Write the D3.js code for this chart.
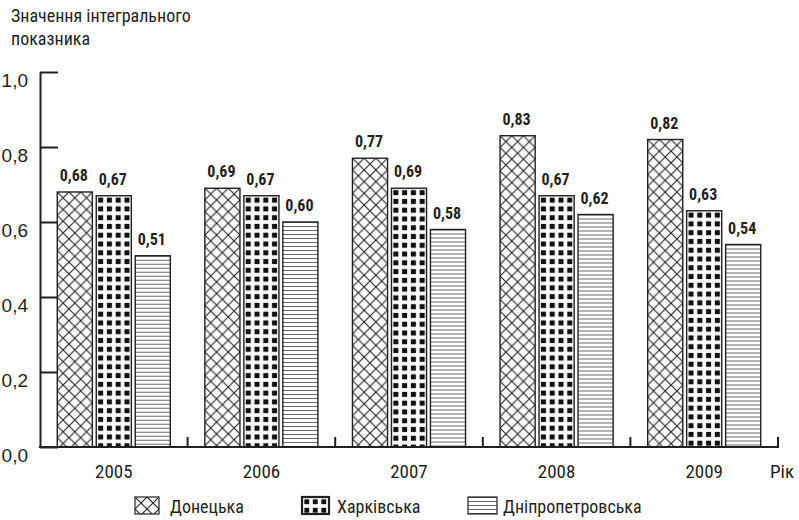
<!DOCTYPE html>
<html><head><meta charset="utf-8">
<script src="https://cdn.jsdelivr.net/npm/d3@7"></script>
<style>
html,body{margin:0;padding:0;background:#fff;}
svg{display:block;font-family:"Liberation Sans Narrow","Roboto Condensed","DejaVu Sans Condensed",sans-serif;}
</style></head><body>
<svg id="chart" width="799" height="520"></svg>
<script>
// Integral index values by region and year
const years = ["2005", "2006", "2007", "2008", "2009"];
const regions = ["Донецька", "Харківська", "Дніпропетровська"];
const donetsk = [0.68, 0.69, 0.77, 0.83, 0.82];
const kharkiv = [0.67, 0.67, 0.69, 0.67, 0.63];
const dnipro  = [0.51, 0.60, 0.58, 0.62, 0.54];
const yTicks = [0, 0.2, 0.4, 0.6, 0.8, 1.0];
const yTitle = ["Значення інтегрального", "показника"];
const xTitle = "Рік";

const seriesValues = [donetsk, kharkiv, dnipro];
const ink = "#231f20";

const locale = d3.formatLocale({decimal: ",", thousands: " ", grouping: [3], currency: ["", ""]});
const fmtTick = locale.format(".1f");
const fmtVal = locale.format(".2f");

const svg = d3.select("#chart");
const defs = svg.append("defs");

const x = d3.scaleBand().domain(years).range([40, 778]).padding(0);
const groupW = x.bandwidth() * 0.766;
const xs = d3.scaleBand().domain(regions).range([0, groupW]).paddingInner(0.1);
const y = d3.scaleLinear().domain([0, 1]).range([447, 72]);

// Fill patterns: cross-hatch, black squares, horizontal lines
function makePattern(id, kind, ox, oy, w) {
  const p = defs.append("pattern").attr("id", id).attr("patternUnits", "userSpaceOnUse");
  if (kind === 0) {
    const t = w / 3;
    p.attr("width", t).attr("height", t).attr("patternTransform", `translate(${ox},${oy})`);
    p.append("rect").attr("width", t).attr("height", t).attr("fill", "#fff");
    p.append("path").attr("d", `M0,0L${t},${t}M${t},0L0,${t}`)
      .attr("stroke", ink).attr("stroke-width", 1.1).attr("fill", "none");
  } else if (kind === 1) {
    const t = w / 4, s = t * 0.58, o = (t - s) / 2;
    p.attr("width", t).attr("height", t).attr("patternTransform", `translate(${ox},${oy})`);
    p.append("rect").attr("width", t).attr("height", t).attr("fill", "#fff");
    p.append("rect").attr("x", o).attr("y", o).attr("width", s).attr("height", s).attr("fill", "#111");
  } else {
    const t = 4;
    p.attr("width", 10).attr("height", t).attr("patternTransform", `translate(${ox},${oy})`);
    p.append("rect").attr("width", 10).attr("height", t).attr("fill", "#fff");
    p.append("line").attr("x1", 0).attr("x2", 10).attr("y1", 0.5).attr("y2", 0.5)
      .attr("stroke", "#6a6a6a").attr("stroke-width", 1);
  }
}

const bars = [];
years.forEach((yr, i) => {
  regions.forEach((r, j) => {
    const cx = x(yr) + (x.bandwidth() - groupW) / 2;
    bars.push({year: yr, region: r, s: j, v: seriesValues[j][i], x0: cx + xs(r), w: xs.bandwidth()});
  });
});

bars.forEach((b, k) => makePattern("pb" + k, b.s, b.x0, y(b.v), b.w));

const gBars = svg.append("g");
gBars.selectAll("rect").data(bars).join("rect")
  .attr("x", d => d.x0)
  .attr("y", d => y(d.v))
  .attr("width", d => d.w)
  .attr("height", d => y(0) - y(d.v))
  .attr("fill", (d, k) => `url(#pb${k})`)
  .attr("stroke", ink)
  .attr("stroke-width", 1.4);

// Value labels
svg.append("g").selectAll("text").data(bars).join("text")
  .attr("x", d => d.x0 + d.w / 2 - 1)
  .attr("y", d => y(d.v) - 11)
  .attr("text-anchor", "middle")
  .attr("font-size", 16)
  .attr("font-weight", "bold")
  .attr("fill", ink)
  .text(d => fmtVal(d.v));

// Y axis with inward ticks
const yAxis = d3.axisLeft(y).tickValues(yTicks).tickFormat(fmtTick).tickSizeInner(-18).tickSizeOuter(0).tickPadding(12);
const gy = svg.append("g").attr("transform", "translate(40,0)").call(yAxis);
gy.select(".domain").attr("stroke", ink).attr("stroke-width", 2);
gy.selectAll(".tick line").attr("stroke", ink).attr("stroke-width", 2);
gy.selectAll(".tick text").attr("font-size", 19).attr("fill", ink).attr("font-family", null)
  .attr("dy", "0.75em");

// X axis baseline with group separators
const gx = svg.append("g");
gx.append("line").attr("x1", 39).attr("x2", x.range()[1] + 1).attr("y1", y(0)).attr("y2", y(0))
  .attr("stroke", ink).attr("stroke-width", 2);
gx.selectAll("line.sep").data(years).join("line").attr("class", "sep")
  .attr("x1", d => x(d) + x.bandwidth()).attr("x2", d => x(d) + x.bandwidth())
  .attr("y1", y(0)).attr("y2", y(0) - 10)
  .attr("stroke", ink).attr("stroke-width", 2);
gx.selectAll("text").data(years).join("text")
  .attr("x", d => x(d) + x.bandwidth() / 2)
  .attr("y", 478)
  .attr("text-anchor", "middle")
  .attr("font-size", 19)
  .attr("fill", ink)
  .text(d => d);

svg.append("text").attr("x", 770).attr("y", 478).attr("font-size", 19).attr("fill", ink).text(xTitle);

svg.append("g").selectAll("text").data(yTitle).join("text")
  .attr("x", 11).attr("y", (d, i) => 22 + i * 23)
  .attr("font-size", 18).attr("fill", ink)
  .text(d => d);

// Legend
const legendItems = [
  {s: 0, ix: 135, iw: 24, tx: 170},
  {s: 1, ix: 302, iw: 27, tx: 337},
  {s: 2, ix: 468, iw: 29, tx: 503}
];
const ly = 497, lh = 17;
legendItems.forEach((it, k) => {
  const pw = it.s === 0 ? 36 : (it.s === 1 ? 34 : 10);
  makePattern("pl" + k, it.s, it.ix + (it.s === 1 ? 0.5 : 0), ly + (it.s === 1 ? 0.5 : 0), pw);
});
const lg = svg.append("g");
lg.selectAll("rect").data(legendItems).join("rect")
  .attr("x", d => d.ix).attr("y", ly).attr("width", d => d.iw).attr("height", lh)
  .attr("fill", (d, k) => `url(#pl${k})`)
  .attr("stroke", ink)
  .attr("stroke-width", d => d.s === 1 ? 2.2 : 1.2);
lg.selectAll("text").data(legendItems).join("text")
  .attr("x", d => d.tx).attr("y", 513)
  .attr("font-size", 18).attr("fill", ink)
  .text(d => regions[d.s]);
</script>
</body></html>
